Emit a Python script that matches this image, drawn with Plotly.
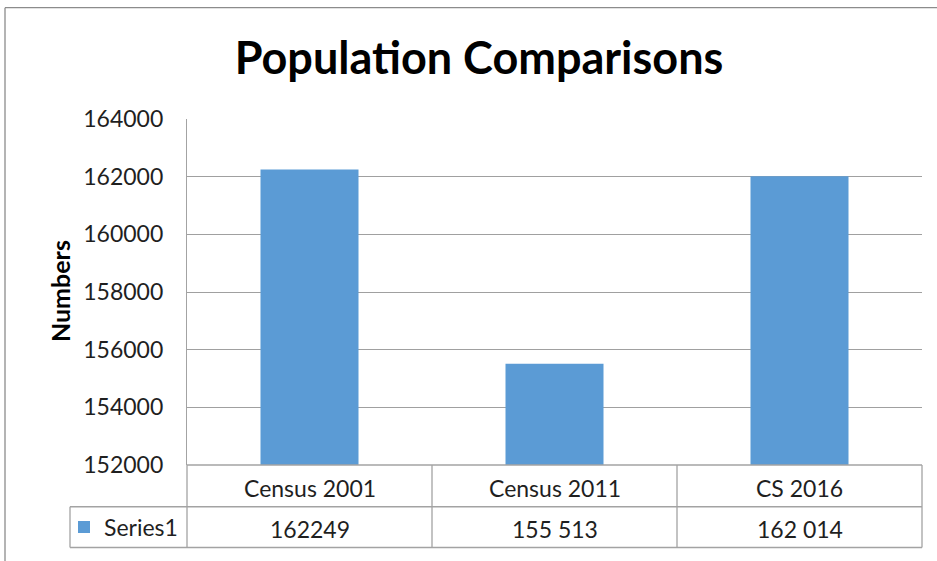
import plotly.graph_objects as go

# Data
categories = ["Census 2001", "Census 2011", "CS 2016"]
population = [162249, 155513, 162014]
population_labels = ["162249", "155 513", "162 014"]
series_name = "Series1"
y_ticks = [152000, 154000, 156000, 158000, 160000, 162000, 164000]

# Page geometry (pixels)
W, H = 937, 561
L, R, T, B = 187, 15, 119, 94
PW, PH = W - L - R, H - T - B
ROW1_BOTTOM, ROW2_BOTTOM = 509, 550
LEGEND_CELL_LEFT = 70


def px_x(px):
    return (px - L) / PW


def px_y(py):
    return (H - B - py) / PH


BLUE = "#5B9BD5"
GRID = "#A0A0A0"
TABLE = "#A3A3A3"
BORDER = "#8C8C8C"
TEXT = "#1F1F1F"
FONT = "Lato"
FS = 23

fig = go.Figure(
    go.Bar(
        x=categories,
        y=population,
        width=0.4,
        name=series_name,
        showlegend=True,
        marker=dict(color=BLUE, line=dict(width=0)),
    )
)

shapes = []


def line(x0, y0, x1, y1, color=TABLE, xref="paper", yref="paper"):
    shapes.append(dict(type="line", xref=xref, yref=yref, x0=x0, y0=y0, x1=x1, y1=y1,
                       line=dict(color=color, width=1.3), layer="above"))


n = len(categories)
# data table grid under the plot
line(0, 0, 1, 0)
line(px_x(LEGEND_CELL_LEFT), px_y(ROW1_BOTTOM), 1, px_y(ROW1_BOTTOM))
line(px_x(LEGEND_CELL_LEFT), px_y(ROW2_BOTTOM), 1, px_y(ROW2_BOTTOM))
for i in range(n + 1):
    line(i / n, 0, i / n, px_y(ROW2_BOTTOM), xref="x domain")
line(px_x(LEGEND_CELL_LEFT), px_y(ROW1_BOTTOM), px_x(LEGEND_CELL_LEFT), px_y(ROW2_BOTTOM))

# chart frame
line(px_x(5), px_y(7), px_x(W + 5), px_y(7), color=BORDER)
line(px_x(5), px_y(7), px_x(5), px_y(H + 5), color=BORDER)

annotations = []
for cat, lab in zip(categories, population_labels):
    annotations.append(dict(x=cat, xref="x", y=px_y((467 + ROW1_BOTTOM) / 2 + 2), yref="paper",
                            text=cat, showarrow=False, font=dict(family=FONT, size=FS, color=TEXT),
                            xanchor="center", yanchor="middle"))
    annotations.append(dict(x=cat, xref="x", y=px_y((ROW1_BOTTOM + ROW2_BOTTOM) / 2 + 2), yref="paper",
                            text=lab, showarrow=False, font=dict(family=FONT, size=FS, color=TEXT),
                            xanchor="center", yanchor="middle"))

annotations.append(dict(x=px_x(60), xref="paper", y=px_y(292), yref="paper", text="<b>Numbers</b>",
                        textangle=-90, showarrow=False, font=dict(family=FONT, size=25, color="#000000"),
                        xanchor="center", yanchor="middle"))

fig.update_layout(
    width=W,
    height=H,
    margin=dict(l=L, r=R, t=T, b=B),
    paper_bgcolor="white",
    plot_bgcolor="white",
    font=dict(family=FONT, size=FS, color=TEXT),
    title=dict(text="<b>Population Comparisons</b>", x=479 / W, xanchor="center",
               y=1 - 58 / H, yanchor="middle", font=dict(family=FONT, size=45, color="#000000")),
    xaxis=dict(range=[-0.5, n - 0.5], showticklabels=False, showgrid=False, zeroline=False,
               showline=False, ticks=""),
    yaxis=dict(range=[y_ticks[0], y_ticks[-1]], tickvals=y_ticks, tickformat="d",
               showgrid=True, gridcolor=GRID, gridwidth=1.4, zeroline=False,
               showline=True, linecolor=TABLE, linewidth=1.3, ticks="",
               ticklabelstandoff=18, tickfont=dict(family=FONT, size=FS, color=TEXT)),
    legend=dict(x=px_x(LEGEND_CELL_LEFT - 6), y=px_y((ROW1_BOTTOM + ROW2_BOTTOM) / 2),
                xanchor="left", yanchor="middle", bgcolor="rgba(0,0,0,0)",
                font=dict(family=FONT, size=FS, color=TEXT), itemwidth=30),
    shapes=shapes,
    annotations=annotations,
    bargap=0.6,
)

fig.write_html("out.html")
